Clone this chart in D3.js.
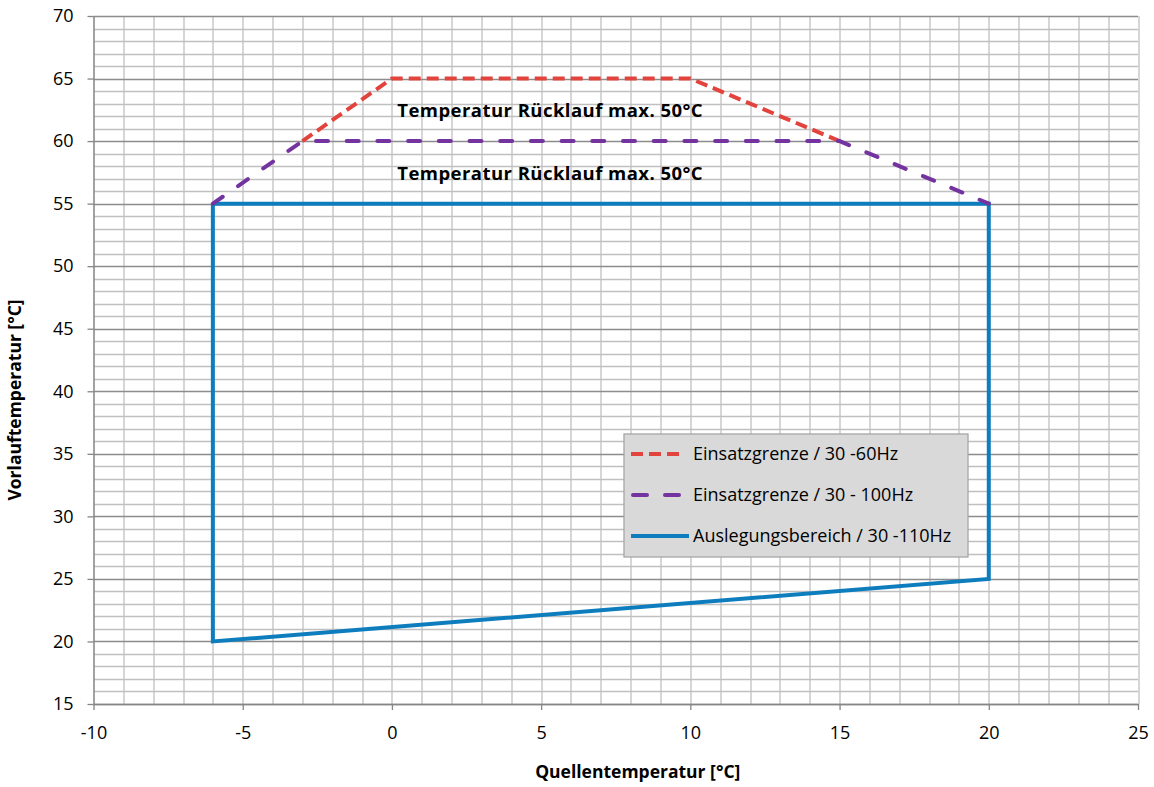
<!DOCTYPE html>
<html>
<head>
<meta charset="utf-8">
<script src="https://cdn.jsdelivr.net/npm/d3@7"></script>
<style>
  body { margin: 0; background: #fff; }
  text { font-family: "Open Sans", Lato, sans-serif; }
</style>
</head>
<body>
<div id="chart"></div>
<script>
// data
var redX = [-3, 0, 10, 15];
var redY = [60, 65, 65, 60];
var purpleX = [-6, -3, 15, 20];
var purpleY = [55, 60, 60, 55];
var blueX = [-6, 20, 20, -6, -6];
var blueY = [55, 55, 25, 20, 55];
var xTicks = [-10, -5, 0, 5, 10, 15, 20, 25];
var yTicks = [15, 20, 25, 30, 35, 40, 45, 50, 55, 60, 65, 70];
var seriesNames = ["Einsatzgrenze / 30 -60Hz", "Einsatzgrenze / 30 - 100Hz", "Auslegungsbereich / 30 -110Hz"];
var noteText = "Temperatur Rücklauf max. 50°C";
var noteX = [0.18, 0.18];
var noteY = [61.95, 56.9];

var W = 1154, H = 787;
var margin = {top: 16, right: 16, bottom: 83, left: 93.5},
    width = W - margin.left - margin.right,
    height = H - margin.top - margin.bottom;

var svg = d3.select("#chart")
  .append("svg")
    .attr("width", W)
    .attr("height", H)
  .append("g")
    .attr("transform", "translate(" + margin.left + "," + margin.top + ")");

var x = d3.scaleLinear().domain([-10, 25]).range([0, width]);
var y = d3.scaleLinear().domain([15, 70]).range([height, 0]);

// grid, every 1 degree
svg.append("g").selectAll("line")
  .data(d3.range(-10, 26, 1))
  .enter().append("line")
    .attr("x1", function(d){ return Math.round(x(d)) + 0.5 })
    .attr("x2", function(d){ return Math.round(x(d)) + 0.5 })
    .attr("y1", 0).attr("y2", height)
    .attr("stroke", "#c0c0c0")
    .attr("stroke-width", 1.3);

svg.append("g").selectAll("line")
  .data(d3.range(15, 71, 1))
  .enter().append("line")
    .attr("y1", function(d){ return Math.round(y(d)) + 0.5 })
    .attr("y2", function(d){ return Math.round(y(d)) + 0.5 })
    .attr("x1", 0).attr("x2", width)
    .attr("stroke", function(d){ return d % 5 == 0 ? "#8c8c8c" : "#c0c0c0" })
    .attr("stroke-width", 1.3);

// axes
var fmt = function(d){ return String(d) };
var xAxis = svg.append("g")
  .attr("transform", "translate(0," + height + ")")
  .call(d3.axisBottom(x).tickValues(xTicks).tickFormat(fmt).tickSize(6).tickPadding(16).tickSizeOuter(0));
var yAxis = svg.append("g")
  .call(d3.axisLeft(y).tickValues(yTicks).tickFormat(fmt).tickSize(6).tickPadding(14).tickSizeOuter(0));
[xAxis, yAxis].forEach(function(a){
  a.select(".domain").attr("stroke", "#868686").attr("stroke-width", 1.3);
  a.selectAll(".tick line").attr("stroke", "#868686").attr("stroke-width", 1.3);
  a.selectAll("text").attr("font-size", 18).attr("fill", "#000")
    .style("font-family", "'Open Sans', sans-serif");
});

var line = d3.line()
  .x(function(d){ return x(d[0]) })
  .y(function(d){ return y(d[1]) });

function pts(xs, ys){ return xs.map(function(v, i){ return [v, ys[i]] }) }

var styles = [
  {color: "#e2443d", dash: "12,6", cap: "butt"},
  {color: "#7434a0", dash: "12,18.7", cap: "round"},
  {color: "#0e7dbd", dash: null, cap: "butt"}
];

svg.append("path")
  .datum(pts(blueX, blueY))
  .attr("d", line)
  .attr("fill", "none")
  .attr("stroke", styles[2].color)
  .attr("stroke-width", 4)
  .attr("stroke-linejoin", "miter");

svg.append("path")
  .datum(pts(redX, redY))
  .attr("d", line)
  .attr("fill", "none")
  .attr("stroke", styles[0].color)
  .attr("stroke-width", 4)
  .attr("stroke-dasharray", styles[0].dash);

svg.append("path")
  .datum(pts(purpleX, purpleY))
  .attr("d", line)
  .attr("fill", "none")
  .attr("stroke", styles[1].color)
  .attr("stroke-width", 4)
  .attr("stroke-linecap", "round")
  .attr("stroke-dasharray", styles[1].dash);

// notes
svg.selectAll("notes")
  .data(noteY)
  .enter().append("text")
    .attr("x", function(d, i){ return x(noteX[i]) })
    .attr("y", function(d){ return y(d) })
    .attr("font-size", 18.5)
    .attr("font-weight", "bold")
    .attr("letter-spacing", 0.45)
    .text(noteText);

// legend
var lg = svg.append("g").attr("transform", "translate(" + (624 - margin.left) + "," + (434 - margin.top) + ")");
lg.append("rect")
  .attr("width", 344).attr("height", 123)
  .attr("fill", "#d9d9d9")
  .attr("stroke", "#a6a6a6")
  .attr("stroke-width", 1.3);
seriesNames.forEach(function(name, i){
  var yy = 20 + i * 41;
  lg.append("line")
    .attr("x1", i == 1 ? 9 : 7).attr("x2", i == 2 ? 65 : (i == 1 ? 56 : 58))
    .attr("y1", yy).attr("y2", yy)
    .attr("stroke", styles[i].color)
    .attr("stroke-width", 4)
    .attr("stroke-linecap", styles[i].cap)
    .attr("stroke-dasharray", i == 1 ? "14,18" : styles[i].dash);
  lg.append("text")
    .attr("x", 69).attr("y", yy)
    .attr("dy", "0.35em")
    .attr("font-size", 18)
    .text(name);
});

// axis titles
svg.append("text")
  .attr("x", width / 2 + 22)
  .attr("y", height + 74)
  .attr("text-anchor", "middle")
  .attr("font-size", 17.5)
  .attr("font-weight", "bold")
  .text("Quellentemperatur [°C]");

svg.append("text")
  .attr("transform", "translate(" + (-73) + "," + (height / 2 + 40) + ") rotate(-90)")
  .attr("text-anchor", "middle")
  .attr("font-size", 17.5)
  .attr("font-weight", "bold")
  .text("Vorlauftemperatur [°C]");
</script>
</body>
</html>
